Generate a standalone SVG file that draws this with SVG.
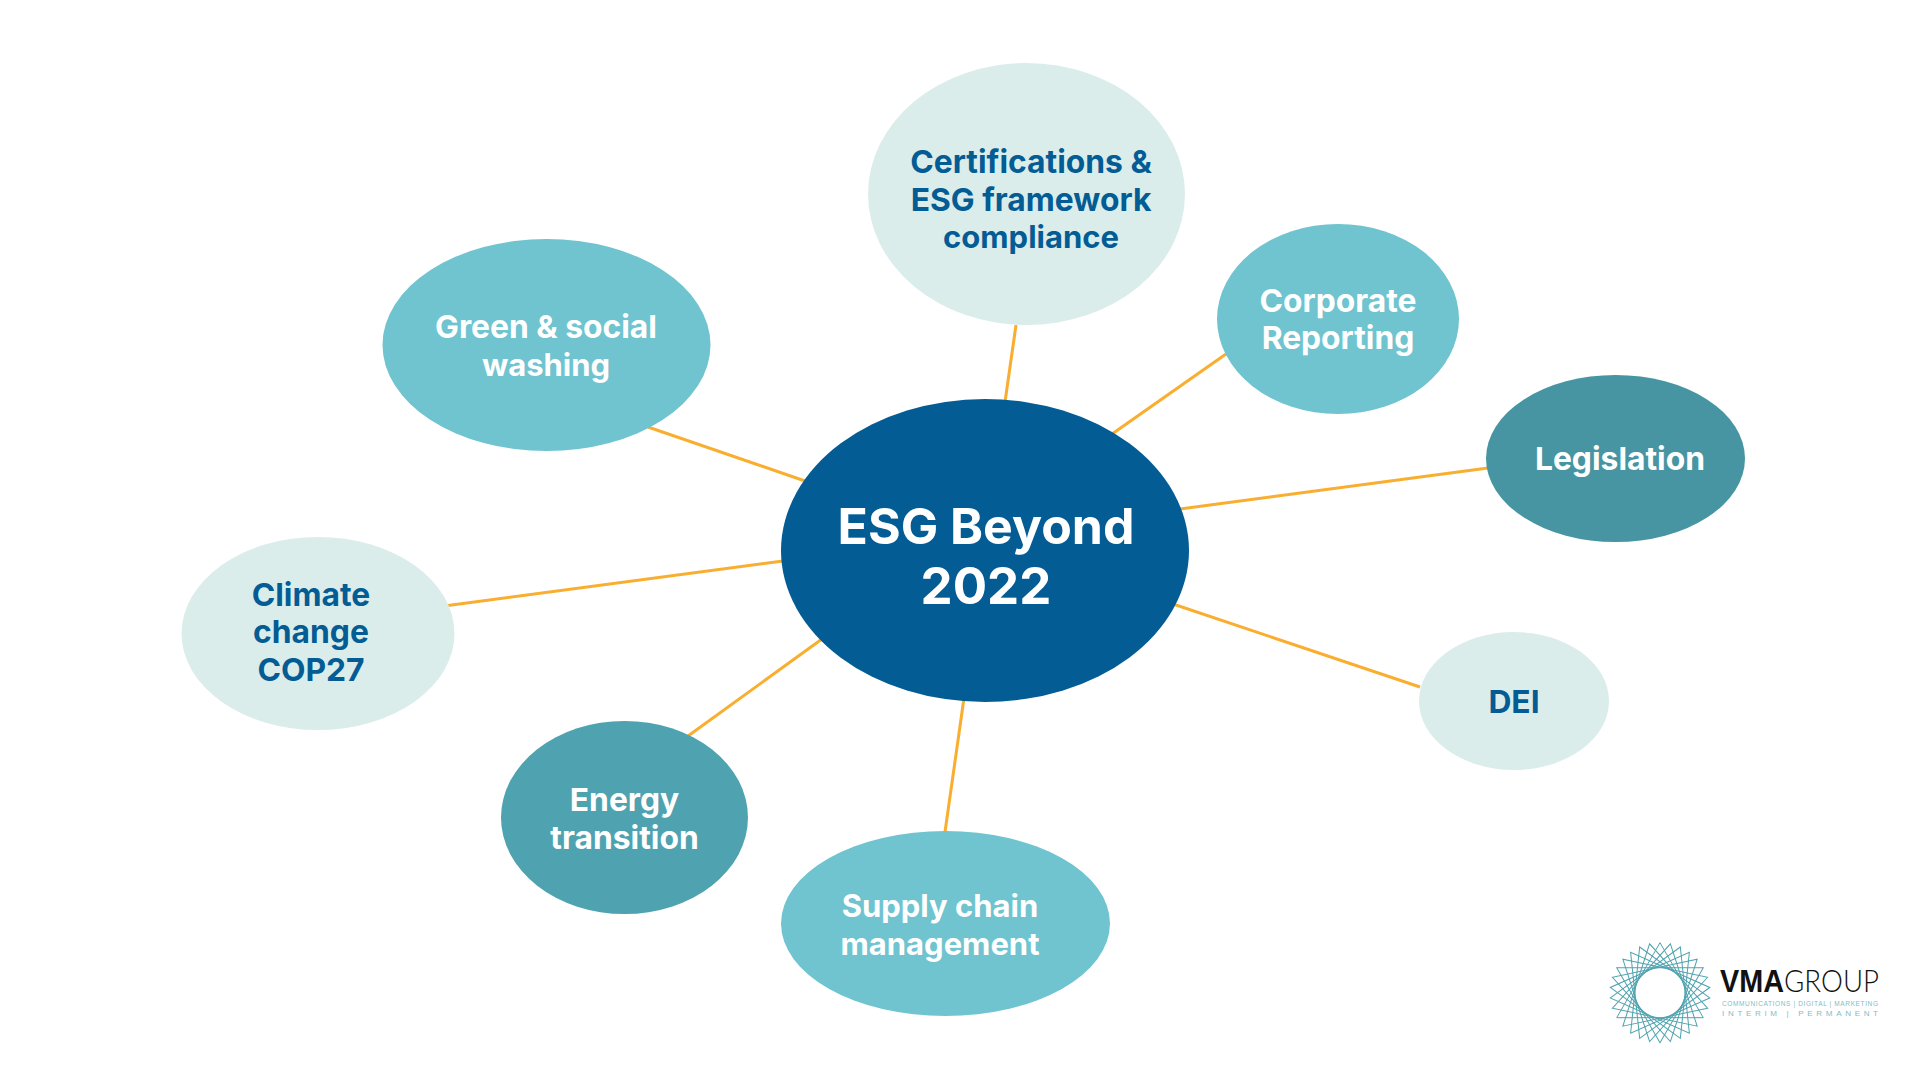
<svg xmlns="http://www.w3.org/2000/svg" xmlns:xlink="http://www.w3.org/1999/xlink" width="1920" height="1080" viewBox="0 0 1920 1080">
<style>
.l{font-family:Inter,"Liberation Sans",sans-serif;font-weight:700;font-size:31.8px;text-anchor:middle}
.n{font-size:31px}
.w{fill:#fff}.b{fill:#035C94}
.c{stroke:#F9AE2F;stroke-width:3;fill:none}
.tri{fill:none;stroke:#4FA2AF;stroke-width:1}
.sm{font-family:"Liberation Sans",sans-serif;fill:#7FBDC7}
</style>
<defs><polygon id="tri" class="tri" points="0,-50 43.3,25 -43.3,25"/></defs>
<rect width="1920" height="1080" fill="#fff"/>
<g id="connectors">
<line class="c" x1="1016" y1="325" x2="1005" y2="402"/>
<line class="c" x1="1226" y1="354" x2="1112" y2="434"/>
<line class="c" x1="1488" y1="468" x2="1180" y2="509"/>
<line class="c" x1="1420" y1="687" x2="1173" y2="604"/>
<line class="c" x1="945" y1="832" x2="964" y2="698"/>
<line class="c" x1="688" y1="736" x2="822" y2="639"/>
<line class="c" x1="448" y1="605.5" x2="783" y2="561"/>
<line class="c" x1="648" y1="427" x2="805" y2="481"/>
</g>
<g id="node-certifications"><ellipse cx="1026.5" cy="194" rx="158.5" ry="131" fill="#DBEDEB"/><text class="l b" x="1031" y="172.5">Certifications &amp;</text><text class="l b" x="1031" y="210.5">ESG framework</text><text class="l b n" x="1031" y="247.5">compliance</text></g>
<g id="node-green"><ellipse cx="546.5" cy="345" rx="164" ry="106" fill="#6FC4D0"/><text class="l w" x="546" y="337.5">Green &amp; social</text><text class="l w n" x="546" y="375.5">washing</text></g>
<g id="node-corporate"><ellipse cx="1338" cy="319" rx="121" ry="95" fill="#6FC4D0"/><text class="l w" x="1338" y="311.5">Corporate</text><text class="l w" x="1338" y="348.5">Reporting</text></g>
<g id="node-legislation"><ellipse cx="1615.5" cy="458.5" rx="129.5" ry="83.5" fill="#4795A2"/><text class="l w" x="1620" y="470">Legislation</text></g>
<g id="node-dei"><ellipse cx="1514" cy="701" rx="95" ry="69" fill="#DBEDEB"/><text class="l b" x="1514" y="713">DEI</text></g>
<g id="node-supply"><ellipse cx="945.5" cy="923.5" rx="164.5" ry="92.5" fill="#6FC4D0"/><text class="l w n" x="940" y="916.5">Supply chain</text><text class="l w n" x="940" y="954.5">management</text></g>
<g id="node-energy"><ellipse cx="624.5" cy="817.5" rx="123.5" ry="96.5" fill="#4FA2AF"/><text class="l w" x="624.5" y="810.5">Energy</text><text class="l w" x="624.5" y="848.5">transition</text></g>
<g id="node-climate"><ellipse cx="318" cy="633.5" rx="136.5" ry="96.5" fill="#DBEDEB"/><text class="l b" x="311" y="605.5">Climate</text><text class="l b" x="311" y="643">change</text><text class="l b" x="311" y="680.5">COP27</text></g>
<g id="node-center"><ellipse cx="985" cy="550.5" rx="204" ry="151.5" fill="#035C94"/><text class="l w" style="font-size:50px" x="986" y="544">ESG Beyond</text><text class="l w" style="font-size:51px" x="986" y="604">2022</text></g>
<g id="logo">
<g transform="translate(1660 992.7)">
<use xlink:href="#tri"/><use xlink:href="#tri" transform="rotate(12)"/><use xlink:href="#tri" transform="rotate(24)"/><use xlink:href="#tri" transform="rotate(36)"/><use xlink:href="#tri" transform="rotate(48)"/><use xlink:href="#tri" transform="rotate(60)"/><use xlink:href="#tri" transform="rotate(72)"/><use xlink:href="#tri" transform="rotate(84)"/><use xlink:href="#tri" transform="rotate(96)"/><use xlink:href="#tri" transform="rotate(108)"/>
</g>
<text x="1720" y="992" font-family="Liberation Sans, sans-serif" font-weight="700" font-size="31" textLength="64" lengthAdjust="spacingAndGlyphs" fill="#111">VMA</text>
<text x="1784" y="992" font-family="Lato, sans-serif" font-weight="300" font-size="31" textLength="95" lengthAdjust="spacingAndGlyphs" fill="#111">GROUP</text>
<text class="sm" x="1722" y="1006" font-size="6.5" textLength="156" lengthAdjust="spacing">COMMUNICATIONS | DIGITAL | MARKETING</text>
<text class="sm" x="1722" y="1016" font-size="8" textLength="156" lengthAdjust="spacing">INTERIM | PERMANENT</text>
</g>
</svg>
